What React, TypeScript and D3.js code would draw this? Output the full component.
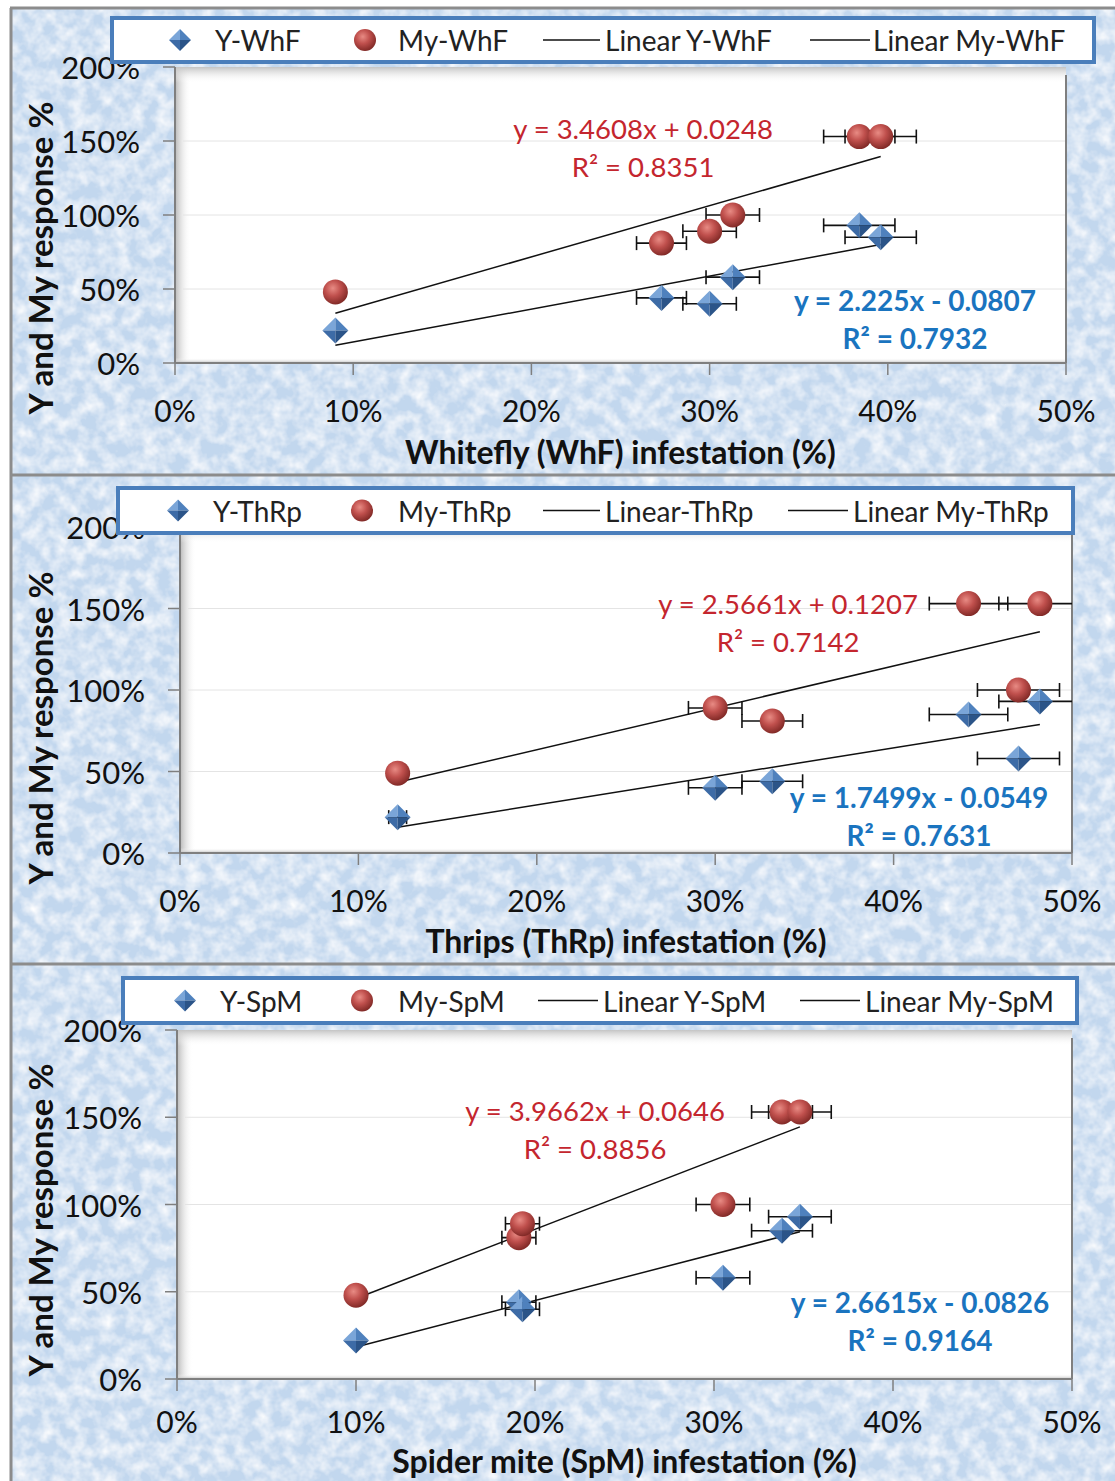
import * as d3 from "d3";

// Whitefly panel
const whfX = [9, 27.3, 30, 31.3, 38.4, 39.6];
const whfY = [22, 44, 40, 58, 93, 85];
const whfMy = [48, 81, 89, 100, 153, 153];
const whfErr = [0, 1.4, 1.5, 1.5, 2, 2];
const whfFitY = [2.225, -0.0807];
const whfFitMy = [3.4608, 0.0248];
const whfLegend = ["Y-WhF", "My-WhF", "Linear Y-WhF", "Linear My-WhF"];
const whfEqY = ["y = 2.225x - 0.0807", "R² = 0.7932"];
const whfEqMy = ["y = 3.4608x + 0.0248", "R² = 0.8351"];

// Thrips panel
const thrpX = [12.2, 30, 33.2, 44.2, 47, 48.2];
const thrpY = [22, 40, 44, 85, 58, 93];
const thrpMy = [49, 89, 81, 153, 100, 153];
const thrpErr = [0.5, 1.5, 1.7, 2.2, 2.3, 2.3];
const thrpFitY = [1.7499, -0.0549];
const thrpFitMy = [2.5661, 0.1207];
const thrpLegend = ["Y-ThRp", "My-ThRp", "Linear-ThRp", "Linear My-ThRp"];
const thrpEqY = ["y = 1.7499x - 0.0549", "R² = 0.7631"];
const thrpEqMy = ["y = 2.5661x + 0.1207", "R² = 0.7142"];

// Spider mite panel
const spmX = [10, 19.1, 19.3, 30.5, 33.8, 34.8];
const spmY = [22, 44, 40, 58, 85, 93];
const spmMy = [48, 81, 89, 100, 153, 153];
const spmErr = [0, 0.95, 0.95, 1.5, 1.7, 1.75];
const spmFitY = [2.6615, -0.0826];
const spmFitMy = [3.9662, 0.0646];
const spmLegend = ["Y-SpM", "My-SpM", "Linear Y-SpM", "Linear My-SpM"];
const spmEqY = ["y = 2.6615x - 0.0826", "R² = 0.9164"];
const spmEqMy = ["y = 3.9662x + 0.0646", "R² = 0.8856"];

const xTicks = [0, 10, 20, 30, 40, 50];
const yTicks = [0, 50, 100, 150, 200];
const yTitle = "Y and My response %";

const W = 1115;
const H = 1481;
const FONT = "Lato, 'Open Sans', sans-serif";
const RED_TXT = "#c4262e";
const BLUE_TXT = "#1a74bf";

const panels = [
  {
    id: "whf", xs: whfX, ys: whfY, my: whfMy, err: whfErr, fitY: whfFitY, fitMy: whfFitMy,
    legend: whfLegend, eqY: whfEqY, eqMy: whfEqMy,
    title: "Whitefly (WhF) infestation (%)",
    top: 8, bottom: 475,
    xr: [175, 1066], yr: [363, 67],
    box: [112, 18, 1094, 62],
    leg: { mk: [180, 365], ln: [[543, 600], [810, 870]], tx: [215, 398, 605, 873] },
    eqMyPos: [643, 128], eqYPos: [915, 300],
    tickY: 410, titleY: 451, yTitleY: 258,
  },
  {
    id: "thrp", xs: thrpX, ys: thrpY, my: thrpMy, err: thrpErr, fitY: thrpFitY, fitMy: thrpFitMy,
    legend: thrpLegend, eqY: thrpEqY, eqMy: thrpEqMy,
    title: "Thrips (ThRp) infestation (%)",
    top: 475, bottom: 964,
    xr: [180, 1072], yr: [853, 527],
    box: [118, 488, 1073, 533],
    leg: { mk: [178, 362], ln: [[543, 600], [788, 848]], tx: [213, 398, 605, 853] },
    eqMyPos: [788, 603], eqYPos: [919, 797],
    tickY: 900, titleY: 940, yTitleY: 728,
  },
  {
    id: "spm", xs: spmX, ys: spmY, my: spmMy, err: spmErr, fitY: spmFitY, fitMy: spmFitMy,
    legend: spmLegend, eqY: spmEqY, eqMy: spmEqMy,
    title: "Spider mite (SpM) infestation (%)",
    top: 964, bottom: 1481,
    xr: [177, 1072], yr: [1379, 1030],
    box: [123, 978, 1077, 1023],
    leg: { mk: [185, 362], ln: [[538, 598], [800, 860]], tx: [220, 398, 603, 865] },
    eqMyPos: [595, 1110], eqYPos: [920, 1302],
    tickY: 1421, titleY: 1460, yTitleY: 1220,
  },
];

function Diamond({ x, y, s = 13 }: { x: number; y: number; s?: number }) {
  return (
    <g transform={`translate(${x},${y})`}>
      <polygon points={`0,${-s} ${-s},0 0,0`} fill="#7aa5d8" />
      <polygon points={`0,${-s} ${s},0 0,0`} fill="#4f81bd" />
      <polygon points={`${-s},0 0,${s} 0,0`} fill="#3d6ba6" />
      <polygon points={`${s},0 0,${s} 0,0`} fill="#2b5488" />
    </g>
  );
}

function Sphere({ x, y, r = 12.5 }: { x: number; y: number; r?: number }) {
  return <circle cx={x} cy={y} r={r} fill="url(#sphere)" />;
}

function Panel({ p }: { p: (typeof panels)[number] }) {
  const x = d3.scaleLinear().domain([0, 50]).range(p.xr);
  const y = d3.scaleLinear().domain([0, 200]).range(p.yr);
  const [x0, x1] = p.xr;
  const [yb, yt] = p.yr;
  const ext = d3.extent(p.xs) as [number, number];
  const fitLine = (c: number[]) =>
    d3.line<number>()
      .x((v) => x(v))
      .y((v) => y((c[0] * v / 100 + c[1]) * 100))(ext);
  const legMid = (p.box[1] + p.box[3]) / 2;

  const errBars = (vals: number[]) =>
    p.xs.map((xv, i) => {
      const e = p.err[i];
      if (!e) return null;
      const lo = Math.max(0, xv - e);
      const hi = Math.min(50, xv + e);
      const cy = y(vals[i]);
      return (
        <g key={i} stroke="#111" strokeWidth={1.6}>
          <line x1={x(lo)} x2={x(hi)} y1={cy} y2={cy} />
          {xv - e >= 0 && <line x1={x(lo)} x2={x(lo)} y1={cy - 7} y2={cy + 7} />}
          {xv + e <= 50 && <line x1={x(hi)} x2={x(hi)} y1={cy - 7} y2={cy + 7} />}
        </g>
      );
    });

  return (
    <g>
      {/* plot area */}
      <rect x={x0} y={yt} width={x1 - x0} height={yb - yt} fill="#fff" />
      <rect x={x0} y={yt} width={16} height={yb - yt} fill="url(#shL)" />
      <rect x={x0} y={yt} width={x1 - x0} height={16} fill="url(#shT)" />
      <rect x={x0} y={yb - 5} width={x1 - x0} height={5} fill="url(#shB)" />
      {yTicks.slice(1, -1).map((t) => (
        <line key={t} x1={x0 + 8} x2={x1} y1={y(t)} y2={y(t)} stroke="#e4e4e4" strokeWidth={1} />
      ))}
      <line x1={x1} x2={x1} y1={yt + 8} y2={yb} stroke="#7f7f7f" strokeWidth={2} />
      <line x1={x0} x2={x0} y1={yt} y2={yb} stroke="#7f7f7f" strokeWidth={2} />
      <line x1={x0} x2={x1} y1={yb} y2={yb} stroke="#7f7f7f" strokeWidth={2} />
      {yTicks.map((t) => (
        <line key={t} x1={x0 - 12} x2={x0} y1={y(t)} y2={y(t)} stroke="#7f7f7f" strokeWidth={1.5} />
      ))}
      {xTicks.map((t) => (
        <line key={t} x1={x(t)} x2={x(t)} y1={yb} y2={yb + 12} stroke="#7f7f7f" strokeWidth={1.5} />
      ))}
      {/* tick labels */}
      {yTicks.map((t) => (
        <text key={t} x={x0 - 35} y={y(t)} textAnchor="end" dominantBaseline="central"
          fontSize={31} fill="#111" fontFamily={FONT}>{t}%</text>
      ))}
      {xTicks.map((t) => (
        <text key={t} x={x(t)} y={p.tickY} textAnchor="middle" dominantBaseline="central"
          fontSize={30} fill="#111" fontFamily={FONT}>{t}%</text>
      ))}
      <text x={(x0 + x1) / 2} y={p.titleY} textAnchor="middle" dominantBaseline="central"
        fontSize={32} fontWeight={700} fill="#111" fontFamily={FONT}>{p.title}</text>
      <text transform={`translate(40,${p.yTitleY}) rotate(-90)`} textAnchor="middle" dominantBaseline="central"
        fontSize={33} fontWeight={700} fill="#111" fontFamily={FONT}>{yTitle}</text>

      {/* trend lines */}
      <path d={fitLine(p.fitMy) ?? ""} stroke="#111" strokeWidth={1.5} fill="none" />
      <path d={fitLine(p.fitY) ?? ""} stroke="#111" strokeWidth={1.5} fill="none" />

      {/* error bars + markers */}
      {errBars(p.ys)}
      {errBars(p.my)}
      {p.xs.map((xv, i) => <Diamond key={"d" + i} x={x(xv)} y={y(p.ys[i])} />)}
      {p.xs.map((xv, i) => <Sphere key={"s" + i} x={x(xv)} y={y(p.my[i])} />)}

      {/* equations */}
      {p.eqMy.map((s, i) => (
        <text key={"m" + i} x={p.eqMyPos[0]} y={p.eqMyPos[1] + i * 38} textAnchor="middle" dominantBaseline="central"
          fontSize={27.5} fill={RED_TXT} fontFamily={FONT}>{s}</text>
      ))}
      {p.eqY.map((s, i) => (
        <text key={"y" + i} x={p.eqYPos[0]} y={p.eqYPos[1] + i * 38} textAnchor="middle" dominantBaseline="central"
          fontSize={28} fontWeight={700} fill={BLUE_TXT} fontFamily={FONT}>{s}</text>
      ))}

      {/* legend */}
      <rect x={p.box[0]} y={p.box[1]} width={p.box[2] - p.box[0]} height={p.box[3] - p.box[1]}
        fill="#fff" stroke="#4a7ebb" strokeWidth={4} />
      <Diamond x={p.leg.mk[0]} y={legMid} s={11} />
      <Sphere x={p.leg.mk[1]} y={legMid} r={11} />
      {p.leg.ln.map(([a, b], i) => (
        <line key={i} x1={a} x2={b} y1={legMid} y2={legMid} stroke="#111" strokeWidth={1.5} />
      ))}
      {p.legend.map((s, i) => (
        <text key={s} x={p.leg.tx[i]} y={legMid} dominantBaseline="central" fontSize={28}
          fill="#222" fontFamily={FONT}>{s}</text>
      ))}
    </g>
  );
}

export default function App() {
  return (
    <svg width={W} height={H} style={{ position: "absolute", left: 0, top: 0, background: "#fff" }}>
      <defs>
        <filter id="tex" x="0" y="0" width="100%" height="100%">
          <feTurbulence type="fractalNoise" baseFrequency="0.07" numOctaves={3} seed={7} result="n" />
          <feColorMatrix in="n" type="matrix"
            values="0 0 0 0 1  0 0 0 0 1  0 0 0 0 1  1.6 0 0 0 -0.55" result="w" />
          <feFlood floodColor="#c2d7ee" result="base" />
          <feComposite in="w" in2="base" operator="over" />
        </filter>
        <radialGradient id="sphere" cx="0.4" cy="0.35" r="0.7">
          <stop offset="0" stopColor="#e88b84" />
          <stop offset="0.45" stopColor="#c0504d" />
          <stop offset="1" stopColor="#7a2522" />
        </radialGradient>
        <linearGradient id="shL" x1="0" x2="1" y1="0" y2="0">
          <stop offset="0" stopColor="#b8b8b8" />
          <stop offset="1" stopColor="#fff" stopOpacity={0} />
        </linearGradient>
        <linearGradient id="shT" x1="0" x2="0" y1="0" y2="1">
          <stop offset="0" stopColor="#c4c4c4" />
          <stop offset="1" stopColor="#fff" stopOpacity={0} />
        </linearGradient>
        <linearGradient id="shB" x1="0" x2="0" y1="0" y2="1">
          <stop offset="0" stopColor="#fff" stopOpacity={0} />
          <stop offset="1" stopColor="#bbb" />
        </linearGradient>
      </defs>
      <rect x={10} y={8} width={W - 10} height={H - 8} filter="url(#tex)" />
      <line x1={11} x2={11} y1={8} y2={H} stroke="#8c8c8c" strokeWidth={3} />
      {panels.map((p) => (
        <line key={p.id} x1={10} x2={W} y1={p.top} y2={p.top} stroke="#8c8c8c" strokeWidth={3} />
      ))}
      {panels.map((p) => <Panel key={p.id} p={p} />)}
    </svg>
  );
}
